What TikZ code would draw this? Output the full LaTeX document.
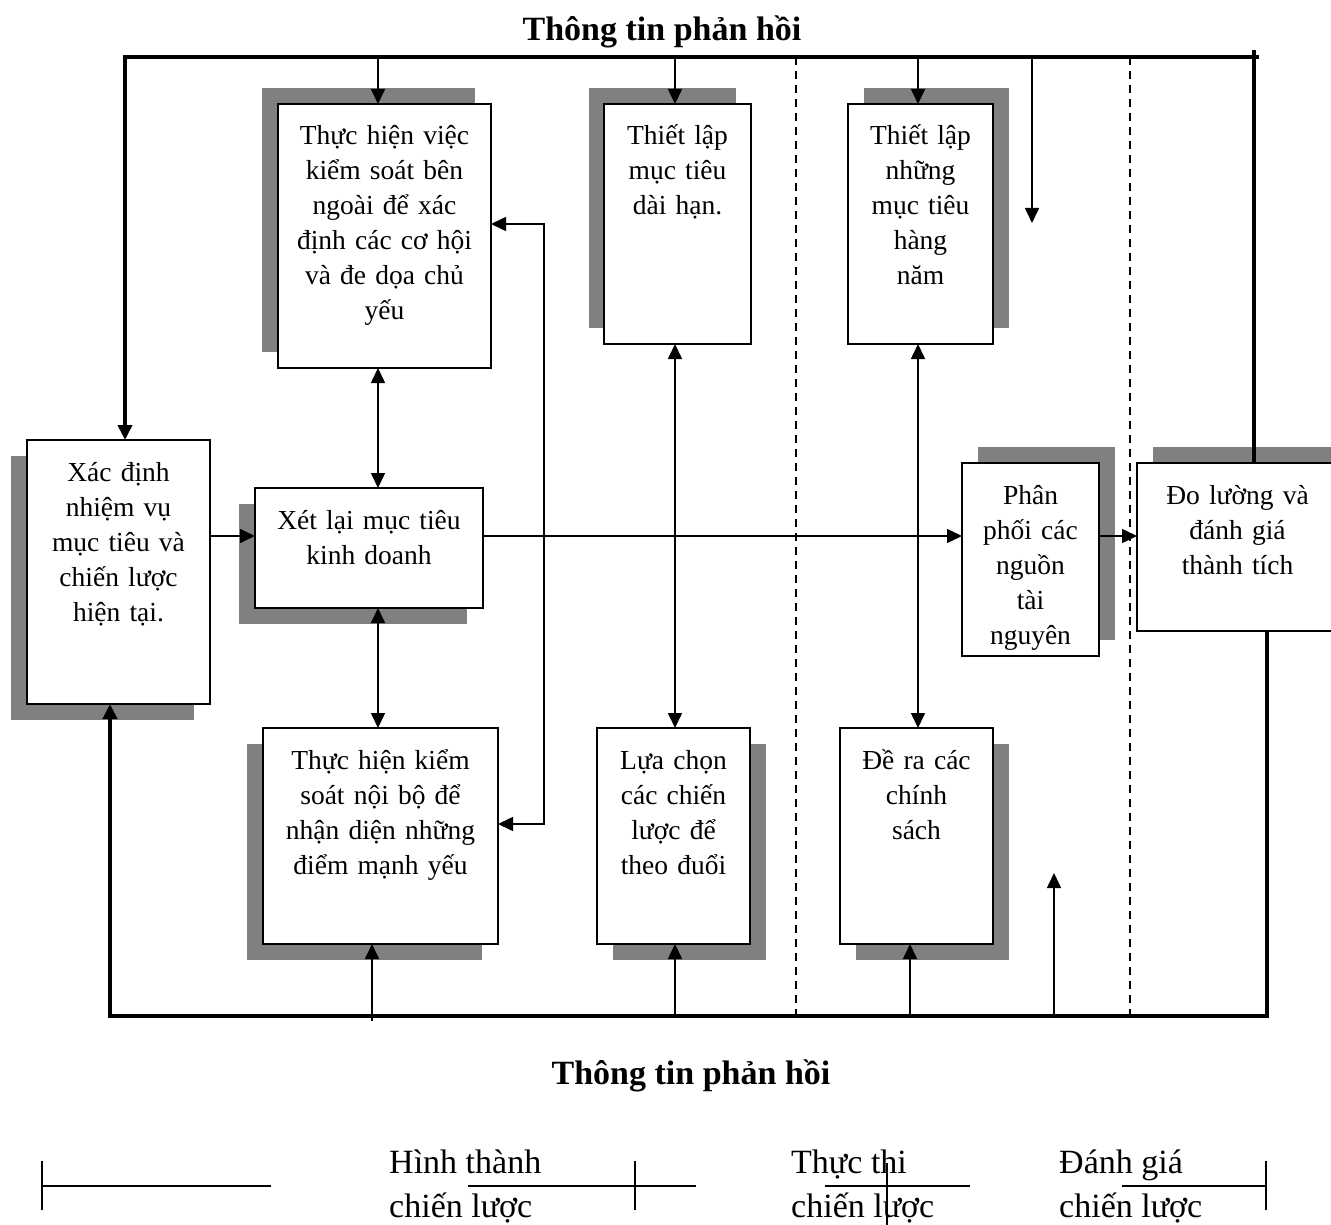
\documentclass[tikz,border=0pt]{standalone}
\usepackage{fontspec}
\setmainfont{Liberation Serif}
\usetikzlibrary{arrows.meta,calc}
\definecolor{shadowc}{HTML}{808080}
\tikzset{
  boxst/.style={draw=black, fill=white, line width=1.6pt, inner sep=0pt, outer sep=0pt, anchor=north west},
  boxtext/.style={anchor=base, inner sep=0pt, align=center, font=\fontsize{27.5}{35}\selectfont},
  conn/.style={line width=1.6pt},
  arr/.style={conn, -{Triangle[length=15pt,width=14pt]}},
  darr/.style={conn, {Triangle[length=15pt,width=14pt]}-{Triangle[length=15pt,width=14pt]}},
  fb/.style={line width=4pt},
  fbarr/.style={fb, -{Triangle[length=15pt,width=14pt]}},
  divider/.style={line width=1.5pt, dash pattern=on 8pt off 6pt},
  legendline/.style={line width=1.8pt},
  titlest/.style={font=\fontsize{34}{40}\selectfont\bfseries, inner sep=0pt, anchor=base},
  legendtext/.style={font=\fontsize{34}{44}\selectfont, inner sep=0pt, anchor=base west}
}
% name, x1, y1, x2, y2, shadow dx, shadow dy, text width, text
\newcommand\shbox[9]{%
  \fill[shadowc] ({#2+#6},{#3+#7}) rectangle ({#4+#6},{#5+#7});
  \node[boxst, minimum width={#4-#2}, minimum height={#5-#3}] (#1) at (#2,#3) {};
  \node[boxtext, text width=#8] (#1t) at ({(#2+#4)/2},{#3+41}) {#9};
}
\begin{document}
\begin{tikzpicture}[x=1pt,y=-1pt]
\useasboundingbox (0,0) rectangle (1331,1225);
\clip (0,0) rectangle (1331,1225);

% titles
\node[titlest] (toptitle) at (662,41) {Thông tin phản hồi};
\node[titlest] (bottitle) at (691,1084) {Thông tin phản hồi};

% dividers
\draw[divider] (796,57) -- (796,1016);
\draw[divider] (1130,57) -- (1130,1016);

% boxes
\shbox{b1}{278}{104}{491}{368}{-16}{-16}{205pt}{Thực hiện việc\\kiểm soát bên\\ngoài để xác\\định các cơ hội\\và đe dọa chủ\\yếu}
\shbox{b2}{604}{104}{751}{344}{-15}{-16}{145pt}{Thiết lập\\mục tiêu\\dài hạn.}
\shbox{b3}{848}{104}{993}{344}{16}{-16}{145pt}{Thiết lập\\những\\mục tiêu\\hàng\\năm}
\shbox{b4}{27}{440}{210}{704}{-16}{16}{180pt}{Xác định\\nhiệm vụ\\mục tiêu và\\chiến lược\\hiện tại.}
\shbox{b5}{255}{488}{483}{608}{-16}{16}{225pt}{Xét lại mục tiêu\\kinh doanh}
\shbox{b6}{263}{728}{498}{944}{-16}{16}{230pt}{Thực hiện kiểm\\soát nội bộ để\\nhận diện những\\điểm mạnh yếu}
\shbox{b7}{597}{728}{750}{944}{16}{16}{150pt}{Lựa chọn\\các chiến\\lược để\\theo đuổi}
\shbox{b8}{840}{728}{993}{944}{16}{16}{150pt}{Đề ra các\\chính\\sách}
\shbox{b9}{962}{463}{1099}{656}{16}{-16}{135pt}{Phân\\phối các\\nguồn\\tài\\nguyên}
\shbox{b10}{1137}{463}{1338}{631}{16}{-16}{195pt}{Đo lường và\\đánh giá\\thành tích}

% top feedback line
\draw[fbarr] (1259,57) -- (125,57) -- (125,57 |- b4.north);
\draw[fb] (1254,50) -- (1254,50 |- b10.north);
\coordinate (t1) at (378,57);
\coordinate (t2) at (675,57);
\coordinate (t3) at (918,57);
\coordinate (t4) at (1032,57);
\coordinate (t4end) at (1032,223);
\draw[arr] (t1) -- (t1 |- b1.north);
\draw[arr] (t2) -- (t2 |- b2.north);
\draw[arr] (t3) -- (t3 |- b3.north);
\draw[arr] (t4) -- (t4end);

% bottom feedback line
\draw[fbarr] (1267,0 |- b10.south) -- (1267,1016) -- (110,1016) -- (110,1016 |- b4.south);
\coordinate (u1) at (372,1021);
\coordinate (u2) at (675,1016);
\coordinate (u3) at (910,1016);
\coordinate (u4) at (1054,1016);
\coordinate (u4end) at (1054,873);
\draw[arr] (u1) -- (u1 |- b6.south);
\draw[arr] (u2) -- (u2 |- b7.south);
\draw[arr] (u3) -- (u3 |- b8.south);
\draw[arr] (u4) -- (u4end);

% vertical double arrows
\draw[darr] (378,0 |- b1.south) -- (378,0 |- b5.north);
\draw[darr] (378,0 |- b5.south) -- (378,0 |- b6.north);
\draw[darr] (675,0 |- b2.south) -- (675,0 |- b7.north);
\draw[darr] (918,0 |- b3.south) -- (918,0 |- b8.north);

% bracket between b1 and b6
\draw[darr] (b1.east |- 0,224) -- (544,224) -- (544,824) -- (b6.east |- 0,824);

% horizontal flow
\draw[arr] (b4.east |- 0,536) -- (b5.west |- 0,536);
\draw[arr] (b5.east |- 0,536) -- (b9.west |- 0,536);
\draw[arr] (b9.east |- 0,536) -- (b10.west |- 0,536);

% legend
\draw[legendline] (42,1161) -- (42,1210);
\draw[legendline] (42,1186) -- (271,1186);
\draw[legendline] (468,1186) -- (696,1186);
\draw[legendline] (635,1161) -- (635,1210);
\draw[legendline] (825,1186) -- (970,1186);
\draw[line width=1.2pt] (887,1163) -- (887,1225);
\draw[legendline] (1122,1186) -- (1266,1186);
\draw[legendline] (1266,1161) -- (1266,1210);
\node[legendtext] (l1a) at (389,1173) {Hình thành};
\node[legendtext] (l1b) at (389,1217) {chiến lược};
\node[legendtext] (l2a) at (791,1173) {Thực thi};
\node[legendtext] (l2b) at (791,1217) {chiến lược};
\node[legendtext] (l3a) at (1059,1173) {Đánh giá};
\node[legendtext] (l3b) at (1059,1217) {chiến lược};
\end{tikzpicture}
\end{document}
